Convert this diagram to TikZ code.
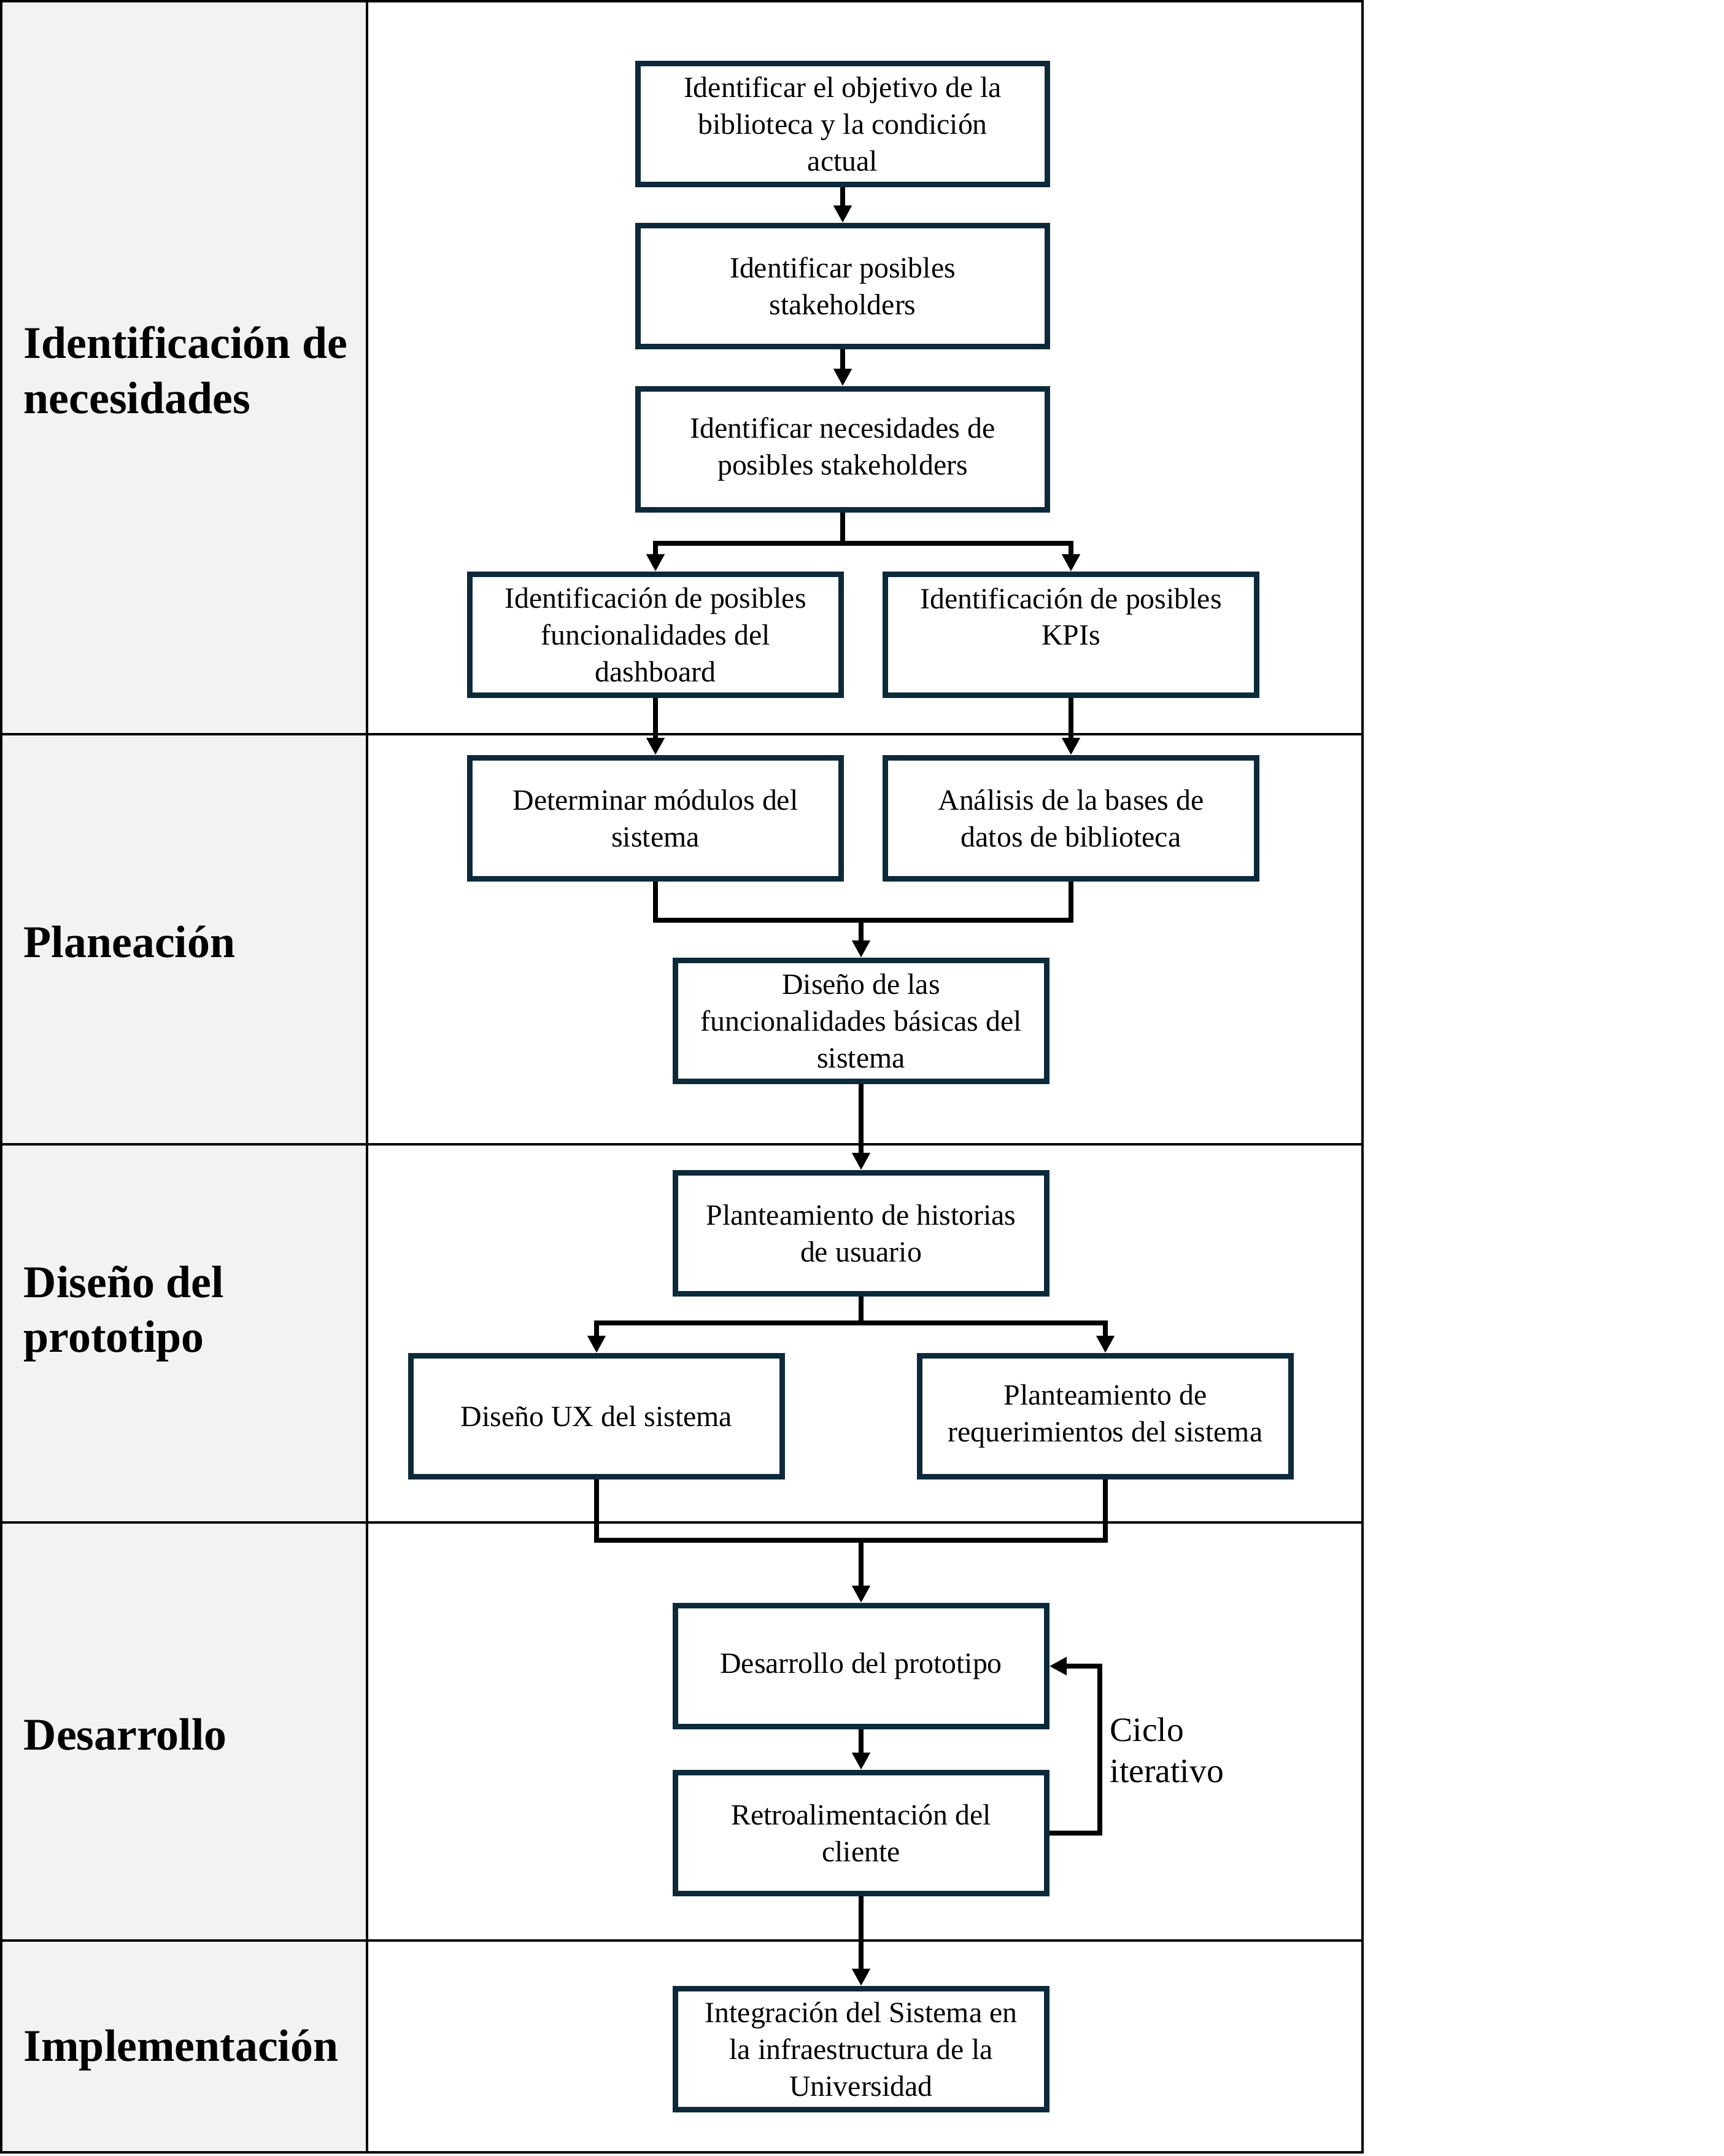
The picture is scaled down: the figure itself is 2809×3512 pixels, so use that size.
\documentclass[tikz,border=0pt]{standalone}
\usepackage{fontspec}
\setmainfont{Liberation Serif}
\usetikzlibrary{arrows.meta}
\definecolor{boxc}{HTML}{0D2A3A}
\definecolor{lgray}{HTML}{F2F2F2}
\begin{document}
\begin{tikzpicture}[x=0.01cm,y=-0.01cm,
 box/.style={draw=boxc,line width=2.6pt,fill=white,minimum width=6.04cm,minimum height=1.97cm,align=center,inner sep=0pt,font=\fontsize{13.6}{17}\selectfont},
 wbox/.style={box,minimum width=6.67cm},
 ttl/.style={anchor=west,align=left,font=\fontsize{21}{25.5}\selectfont\bfseries,inner sep=0pt},
 conn/.style={line width=2.3pt,draw=black},
 arr/.style={conn,-{Triangle[width=8pt,length=8pt]}},
 gridl/.style={line width=1.3pt}]
\useasboundingbox (0,0) rectangle (2809,3512);
\fill[lgray] (0,0) rectangle (598,3508);
\draw[gridl] (2,2) rectangle (2220,3506);
\draw[gridl] (598,2) -- (598,3506);
\draw[gridl] (2,1196) -- (2220,1196);
\draw[gridl] (2,1864) -- (2220,1864);
\draw[gridl] (2,2480) -- (2220,2480);
\draw[gridl] (2,3161) -- (2220,3161);

\node[ttl] (t1) at (38,603) {Identificación de\\necesidades};
\node[ttl] (t2) at (38,1534) {Planeación};
\node[ttl] (t3) at (38,2140) {Diseño del\\prototipo};
\node[ttl] (t4) at (38,2825) {Desarrollo};
\node[ttl] (t5) at (38,3340) {Implementación};

\node[wbox] (n1) at (1373,202) {Identificar el objetivo de la\\biblioteca y la condición\\actual};
\node[wbox] (n2) at (1373,466) {Identificar posibles\\stakeholders};
\node[wbox] (n3) at (1373,732) {Identificar necesidades de\\posibles stakeholders};
\node[box] (n4) at (1068,1034) {Identificación de posibles\\funcionalidades del\\dashboard};
\node[box] (n5) at (1745,1034) {Identificación de posibles\\KPIs\\~};
\node[box] (n6) at (1068,1333) {Determinar módulos del\\sistema};
\node[box] (n7) at (1745,1333) {Análisis de la bases de\\datos de biblioteca};
\node[box] (n8) at (1403,1663) {Diseño de las\\funcionalidades básicas del\\sistema};
\node[box] (n9) at (1403,2009) {Planteamiento de historias\\de usuario};
\node[box] (n10) at (972,2307) {Diseño UX del sistema};
\node[box] (n11) at (1801,2307) {Planteamiento de\\requerimientos del sistema};
\node[box] (n12) at (1403,2714) {Desarrollo del prototipo};
\node[box] (n13) at (1403,2986) {Retroalimentación del\\cliente};
\node[box] (n14) at (1403,3338) {Integración del Sistema en\\la infraestructura de la\\Universidad};

\coordinate (j1) at (1373,885);
\coordinate (j2) at (1403,1499);
\coordinate (j3) at (1403,2155);
\coordinate (j4) at (1403,2509);
\coordinate (fb) at (1792,2986);

\draw[arr] (n1.south) -- (n2.north);
\draw[arr] (n2.south) -- (n3.north);
\draw[conn] (n3.south) -- (j1);
\draw[arr] (j1) -| (n4.north);
\draw[arr] (j1) -| (n5.north);
\draw[arr] (n4.south) -- (n6.north);
\draw[arr] (n5.south) -- (n7.north);
\draw[conn] (n6.south) |- (j2) -| (n7.south);
\draw[arr] (j2) -- (n8.north);
\draw[arr] (n8.south) -- (n9.north);
\draw[conn] (n9.south) -- (j3);
\draw[arr] (j3) -| (n10.north);
\draw[arr] (j3) -| (n11.north);
\draw[conn] (n10.south) |- (j4) -| (n11.south);
\draw[arr] (j4) -- (n12.north);
\draw[arr] (n12.south) -- (n13.north);
\draw[arr] (n13.east) -- (fb) |- (n12.east);
\draw[arr] (n13.south) -- (n14.north);

\node[anchor=west,align=left,inner sep=0pt,font=\fontsize{15.8}{19}\selectfont] (cic) at (1808,2851) {Ciclo\\iterativo};
\end{tikzpicture}
\end{document}
